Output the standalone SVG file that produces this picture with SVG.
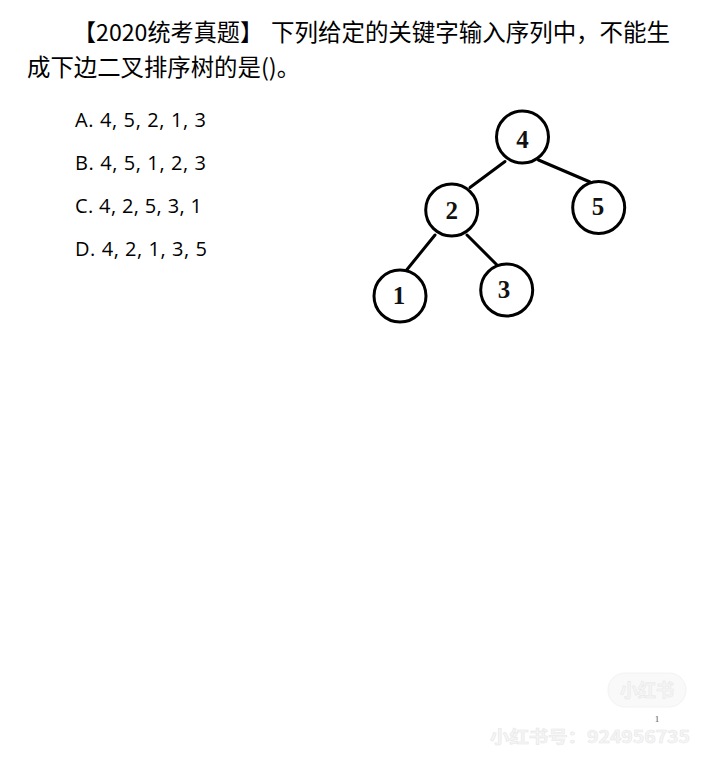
<svg xmlns="http://www.w3.org/2000/svg" width="720" height="767" viewBox="0 0 720 767">
<style>
.cjk{font-family:"Noto Sans CJK SC","Noto Sans",sans-serif;font-size:23.4px;fill:#000}
.opt{font-family:"Open Sans","Liberation Sans",sans-serif;font-size:20px;fill:#000}
.node circle{fill:#fff;stroke:#000;stroke-width:3}
.node text{font-family:"Liberation Serif","DejaVu Serif",serif;font-size:25px;font-weight:bold;fill:#111;text-anchor:middle}
.edge{stroke:#000;stroke-width:3;stroke-linecap:round}
.wm{font-family:"Noto Sans CJK SC","Noto Sans",sans-serif;font-weight:bold;fill:#f6f6f6;stroke:#e8e8e8;stroke-width:0.6}
</style>
<rect width="720" height="767" fill="#fff"/>
<g id="question">
<text class="cjk" x="73" y="41" textLength="190" lengthAdjust="spacingAndGlyphs">【2020统考真题】</text>
<text class="cjk" x="271" y="41" textLength="399" lengthAdjust="spacingAndGlyphs">下列给定的关键字输入序列中，不能生</text>
<text class="cjk" x="27" y="76">成下边二叉排序树的是()。</text>
</g>
<g id="options">
<text class="opt" x="75" y="127" textLength="131">A. 4, 5, 2, 1, 3</text>
<text class="opt" x="75" y="170" textLength="131">B. 4, 5, 1, 2, 3</text>
<text class="opt" x="75" y="213" textLength="127">C. 4, 2, 5, 3, 1</text>
<text class="opt" x="75" y="256" textLength="132">D. 4, 2, 1, 3, 5</text>
</g>
<g id="connectors">
<line class="edge" x1="505" y1="161.5" x2="470" y2="187.5"/>
<line class="edge" x1="538.5" y1="160" x2="590" y2="182"/>
<line class="edge" x1="435" y1="235" x2="405" y2="272"/>
<line class="edge" x1="467" y1="235" x2="497" y2="265"/>
</g>
<g id="node-4" class="node"><circle cx="522.5" cy="137" r="26"/><text x="522.5" y="148">4</text></g>
<g id="node-2" class="node"><circle cx="451.7" cy="210" r="26"/><text x="451.7" y="219">2</text></g>
<g id="node-5" class="node"><circle cx="598.7" cy="207.5" r="26"/><text x="598" y="215">5</text></g>
<g id="node-1" class="node"><circle cx="400" cy="296" r="26"/><text x="399" y="304">1</text></g>
<g id="node-3" class="node"><circle cx="506.7" cy="290" r="26"/><text x="504" y="298">3</text></g>
<g id="watermark">
<rect x="608" y="673" width="78" height="34" rx="17" fill="#f9f9f9" stroke="#f2f2f2"/>
<text class="wm" x="647" y="697" font-size="18" text-anchor="middle">小红书</text>
<text x="657" y="722" font-family="Liberation Serif,serif" font-size="9" fill="#555" text-anchor="middle">1</text>
<text class="wm" x="490" y="743" font-size="16.5" textLength="200" lengthAdjust="spacingAndGlyphs">小红书号：924956735</text>
</g>
</svg>
